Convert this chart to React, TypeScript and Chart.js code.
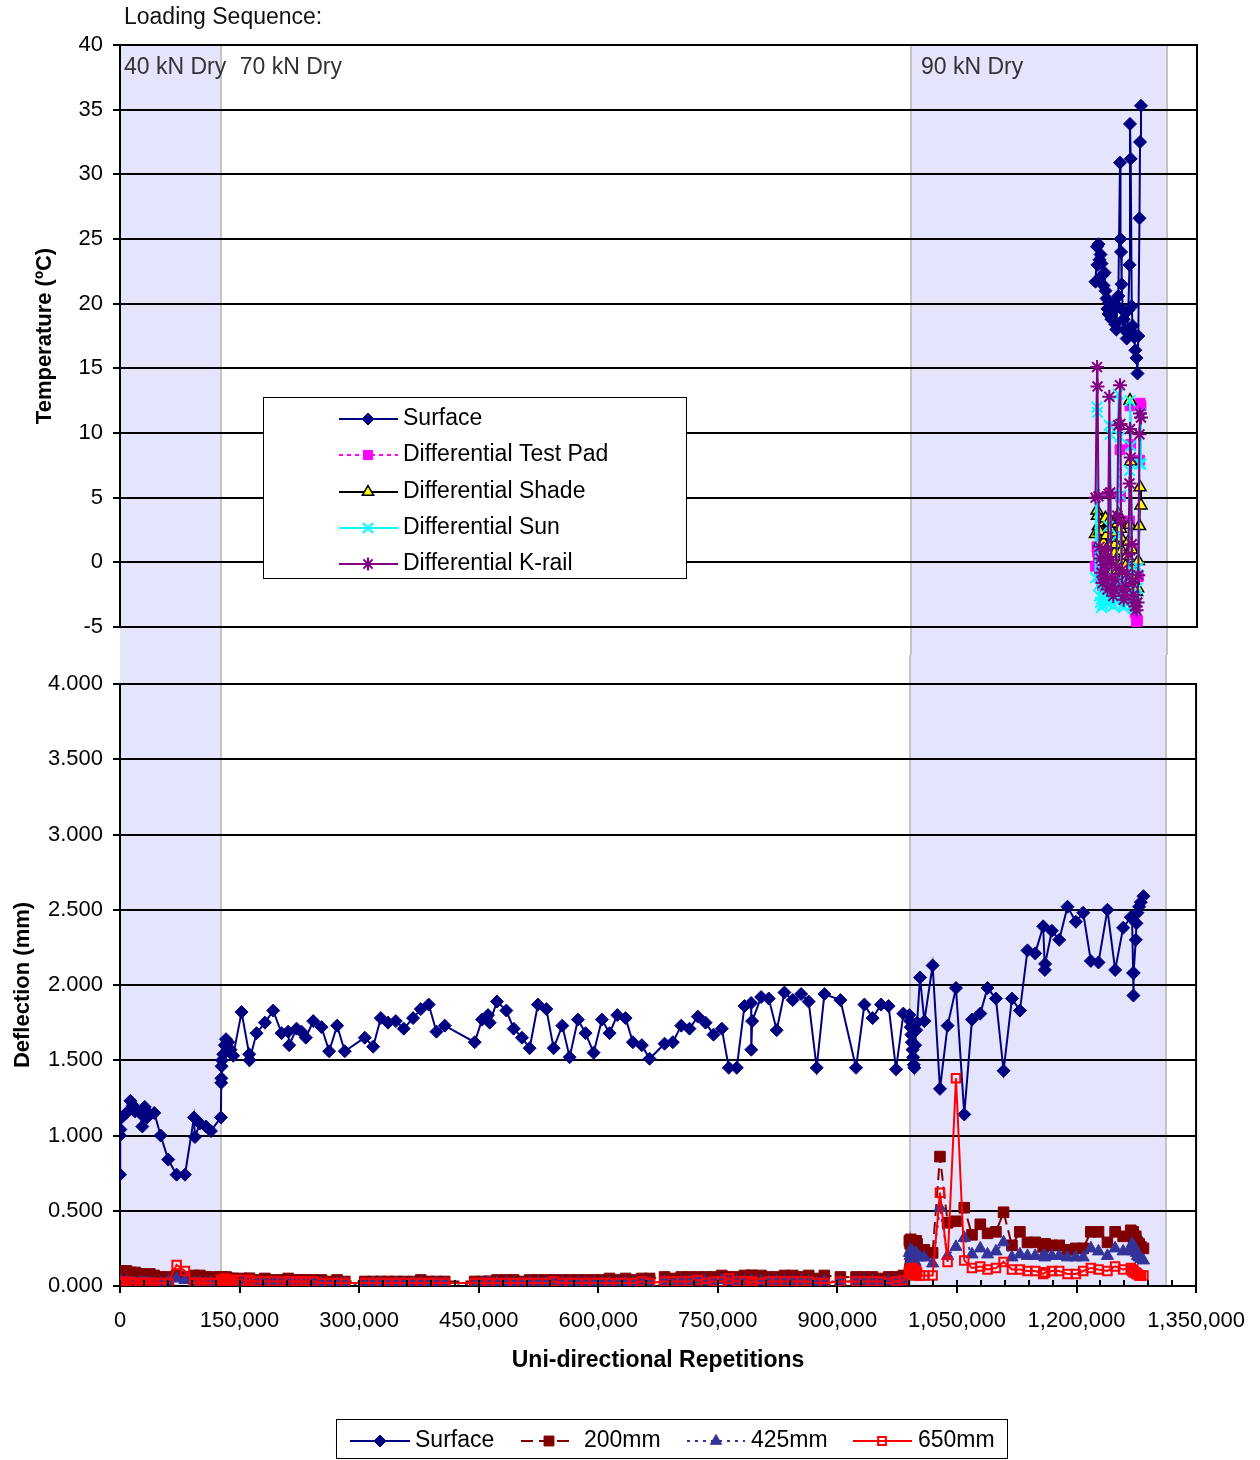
import React, { useEffect, useRef } from 'react';
import { Chart, registerables } from 'chart.js';
import { drawPoint } from 'chart.js/helpers';

Chart.register(...registerables);

const FONT = '"Liberation Sans", Arial, Helvetica, sans-serif';
const FS = 22;
const FS_TEXT = 23;

// ---------------- Temperature panel data ----------------
const tempRepetitions = [
  1222800, 1224700, 1225300, 1226500, 1227800, 1229100, 1230300, 1231600, 1232800, 1234100,
  1235300, 1236600, 1237800, 1239100, 1240100, 1241300, 1242600, 1243800, 1245100, 1246400,
  1247600, 1248900, 1250100, 1251400, 1253500, 1254100, 1254800, 1255600, 1256900, 1258100,
  1259400, 1260600, 1261900, 1263900, 1265400, 1266000, 1266900, 1268200, 1269200, 1270200,
  1271400, 1272700, 1274200, 1275400, 1276400, 1277900, 1278600, 1279800,
];
const tempSurface = [
  21.7, 24.4, 23.0, 24.6, 23.4, 23.8, 23.1, 22.2, 21.4, 22.4,
  21.0, 20.4, 19.6, 19.2, 20.1, 19.1, 18.8, 19.4, 20.0, 19.5,
  18.4, 18.0, 19.8, 20.6, 30.9, 25.0, 24.0, 21.5, 19.5, 18.8,
  18.0, 17.9, 17.3, 19.5, 23.0, 33.9, 31.2, 19.8, 18.3, 17.7,
  17.4, 16.4, 15.8, 14.6, 17.5, 26.6, 32.5, 35.3,
];
const tempTestPad = [
  -0.3, 1.2, 0.8, 0.2, -0.6, -1.0, -1.4, -1.8, -2.0, -1.2,
  -0.9, -1.6, -2.1, -0.8, 0.6, 0.1, -1.1, -1.9, -2.3, -1.6,
  -1.1, -1.5, -0.4, 2.1, 8.7, 5.1, 0.6, -1.0, -2.0, -2.6,
  -2.2, -1.8, -1.2, -0.5, 3.2, 12.1, 9.1, 1.1, -1.4, -2.6,
  -3.3, -3.9, -4.7, -4.5, -1.1, 7.9, 12.3, 12.1,
];
const tempShade = [
  2.2, 4.0, 3.6, 2.8, 2.4, 1.6, 0.9, 0.4, 1.5, 3.1,
  3.4, 2.1, 1.1, 0.6, 3.2, 2.6, 1.3, 0.2, -0.6, 0.7,
  1.4, 2.3, 3.0, 3.7, 3.3, 2.6, 1.9, 0.9, 0.1, -0.8,
  -1.1, -0.3, 0.5, 1.6, 2.9, 12.5, 7.8, 1.0, -0.5, -1.3,
  -1.8, -2.1, -2.3, -2.0, 0.1, 2.8, 5.8, 4.4,
];
const tempSun = [
  -1.2, 12.0, 11.6, -1.8, -2.6, -3.1, -3.5, -3.3, -2.8, -2.1,
  -1.7, -2.6, -3.2, 2.8, 10.6, 9.9, -2.2, -3.1, -3.4, -2.9,
  -2.4, -2.0, 2.1, 13.0, 9.7, 5.2, -1.4, -2.6, -3.3, -3.5,
  -3.1, -2.7, -2.2, -1.0, 7.1, 12.5, 9.0, -0.6, -2.6, -3.3,
  -3.6, -3.1, -2.7, -2.0, -0.4, 7.6, 11.5, 7.6,
];
const tempKrail = [
  5.0, 15.1, 13.6, 5.1, 1.2, 0.3, -0.8, -1.6, -1.1, -0.2,
  0.9, -1.4, -2.1, 5.3, 12.8, 5.4, 0.2, -1.9, -2.6, -2.1,
  -1.3, -0.4, 3.6, 10.6, 13.7, 10.7, 3.1, -0.6, -2.1, -2.9,
  -2.5, -1.8, -0.9, 0.6, 6.1, 10.3, 8.1, 1.4, -1.6, -2.5,
  -3.1, -3.4, -3.7, -3.1, -1.0, 9.9, 11.5, 11.2,
];

// ---------------- Deflection panel data ----------------
const deflRepetitions = [
  0, 0, 500, 2000, 8000, 13000, 16000, 19000, 25000, 28000,
  31000, 34000, 37500, 43000, 51000, 60500, 71000, 81500, 92800, 94000,
  100300, 107800, 114000, 126600, 127000, 127200, 127500, 128000, 129500, 131500,
  133000, 135800, 138700, 142000, 152500, 162100, 162500, 171300, 181800, 192200,
  202700, 211000, 212300, 221500, 227700, 233200, 242400, 252800, 262400, 272400,
  282000, 307100, 317600, 327200, 336300, 346000, 356000, 367700, 377300, 387300,
  397000, 407400, 445000, 454200, 461700, 463800, 473000, 484700, 493900, 504300,
  513900, 524300, 534900, 544000, 554900, 564100, 574500, 584100, 594200, 604600,
  614200, 623900, 634300, 643400, 654700, 664400, 683200, 693600, 704100, 714500,
  724900, 734600, 744600, 755000, 763800, 773800, 783400, 791800, 792000, 793100,
  804300, 813900, 823900, 833600, 844000, 854500, 864000, 874000, 883700, 903800,
  923400, 933900, 944200, 954800, 964300, 973600, 982800, 990300, 991300, 992000,
  992800, 993500, 994300, 995000, 995800, 996500, 997500, 998800, 1000000, 1003700,
  1009100, 1019500, 1028700, 1038300, 1048800, 1059200, 1068900, 1079300, 1088400, 1098900,
  1108500, 1119000, 1129000, 1138500, 1148200, 1158200, 1160300, 1160600, 1169100, 1178300,
  1188700, 1199200, 1208400, 1218000, 1227600, 1238800, 1248500, 1258500, 1268100, 1269800,
  1271000, 1271400, 1271800, 1274400, 1275200, 1276400, 1278600, 1280700, 1284000,
];
const deflSurface = [
  0.74, 1.00, 1.04, 1.12, 1.15, 1.23, 1.20, 1.16, 1.15, 1.06,
  1.19, 1.12, 1.14, 1.15, 1.00, 0.84, 0.74, 0.74, 1.12, 0.99,
  1.08, 1.06, 1.03, 1.12, 1.35, 1.38, 1.46, 1.50, 1.54, 1.60,
  1.64, 1.62, 1.57, 1.53, 1.82, 1.54, 1.50, 1.68, 1.75, 1.83,
  1.68, 1.69, 1.60, 1.71, 1.69, 1.65, 1.76, 1.72, 1.56, 1.73,
  1.56, 1.65, 1.59, 1.78, 1.75, 1.76, 1.71, 1.78, 1.84, 1.87,
  1.69, 1.73, 1.62, 1.77, 1.80, 1.75, 1.89, 1.83, 1.71, 1.65,
  1.58, 1.87, 1.84, 1.58, 1.73, 1.52, 1.77, 1.68, 1.55, 1.77,
  1.68, 1.80, 1.78, 1.62, 1.60, 1.51, 1.61, 1.62, 1.73, 1.71,
  1.79, 1.75, 1.67, 1.71, 1.45, 1.45, 1.86, 1.88, 1.57, 1.76,
  1.92, 1.91, 1.70, 1.95, 1.90, 1.94, 1.89, 1.45, 1.94, 1.90,
  1.45, 1.87, 1.78, 1.87, 1.86, 1.44, 1.81, 1.80, 1.76, 1.72,
  1.67, 1.62, 1.57, 1.52, 1.47, 1.45, 1.60, 1.70, 1.75, 2.05,
  1.76, 2.13, 1.31, 1.73, 1.98, 1.14, 1.77, 1.81, 1.98, 1.91,
  1.43, 1.91, 1.83, 2.23, 2.21, 2.39, 2.10, 2.14, 2.36, 2.30,
  2.52, 2.42, 2.48, 2.16, 2.15, 2.50, 2.10, 2.38, 2.45, 2.44,
  2.08, 1.93, 2.08, 2.30, 2.41, 2.48, 2.52, 2.55, 2.59,
];
const defl200 = [
  0.07, 0.08, 0.09, 0.10, 0.10, 0.09, 0.08, 0.09, 0.08, 0.08,
  0.07, 0.07, 0.08, 0.07, 0.06, 0.06, 0.07, 0.06, 0.07, 0.06,
  0.07, 0.06, 0.06, 0.06, 0.05, 0.05, 0.06, 0.05, 0.05, 0.05,
  0.06, 0.05, 0.05, 0.05, 0.05, 0.05, 0.05, 0.04, 0.05, 0.04,
  0.04, 0.05, 0.04, 0.04, 0.04, 0.04, 0.04, 0.04, 0.03, 0.04,
  0.03, 0.03, 0.03, 0.03, 0.03, 0.03, 0.03, 0.03, 0.04, 0.03,
  0.03, 0.03, 0.03, 0.03, 0.03, 0.03, 0.04, 0.04, 0.04, 0.03,
  0.04, 0.04, 0.04, 0.04, 0.04, 0.04, 0.04, 0.04, 0.04, 0.04,
  0.05, 0.04, 0.05, 0.04, 0.05, 0.05, 0.06, 0.05, 0.06, 0.06,
  0.06, 0.06, 0.06, 0.07, 0.06, 0.06, 0.07, 0.07, 0.06, 0.07,
  0.07, 0.06, 0.06, 0.07, 0.07, 0.06, 0.07, 0.05, 0.07, 0.06,
  0.06, 0.06, 0.06, 0.05, 0.06, 0.06, 0.07, 0.30, 0.28, 0.31,
  0.27, 0.25, 0.29, 0.26, 0.24, 0.27, 0.22, 0.30, 0.28, 0.24,
  0.24, 0.22, 0.86, 0.42, 0.43, 0.52, 0.34, 0.41, 0.35, 0.36,
  0.49, 0.27, 0.36, 0.29, 0.29, 0.26, 0.27, 0.28, 0.27, 0.27,
  0.24, 0.25, 0.25, 0.36, 0.36, 0.29, 0.36, 0.33, 0.37, 0.35,
  0.36, 0.34, 0.31, 0.33, 0.30, 0.29, 0.28, 0.26, 0.25,
];
const defl425 = [
  0.02, 0.02, 0.02, 0.03, 0.03, 0.02, 0.02, 0.02, 0.02, 0.02,
  0.02, 0.02, 0.02, 0.02, 0.02, 0.03, 0.05, 0.04, 0.02, 0.02,
  0.02, 0.02, 0.02, 0.02, 0.02, 0.02, 0.03, 0.02, 0.02, 0.03,
  0.02, 0.02, 0.02, 0.02, 0.02, 0.02, 0.02, 0.02, 0.02, 0.02,
  0.02, 0.02, 0.02, 0.02, 0.02, 0.02, 0.02, 0.02, 0.01, 0.02,
  0.02, 0.01, 0.02, 0.02, 0.01, 0.02, 0.02, 0.02, 0.02, 0.01,
  0.02, 0.02, 0.01, 0.02, 0.02, 0.02, 0.02, 0.02, 0.02, 0.02,
  0.02, 0.02, 0.02, 0.02, 0.02, 0.02, 0.02, 0.02, 0.02, 0.02,
  0.02, 0.02, 0.02, 0.02, 0.02, 0.02, 0.03, 0.02, 0.03, 0.03,
  0.03, 0.03, 0.02, 0.04, 0.03, 0.03, 0.03, 0.03, 0.03, 0.03,
  0.03, 0.03, 0.03, 0.03, 0.03, 0.03, 0.03, 0.02, 0.03, 0.03,
  0.03, 0.03, 0.03, 0.02, 0.03, 0.03, 0.03, 0.22, 0.20, 0.24,
  0.21, 0.18, 0.23, 0.19, 0.17, 0.21, 0.16, 0.22, 0.20, 0.19,
  0.19, 0.15, 0.52, 0.20, 0.26, 0.32, 0.21, 0.25, 0.21, 0.23,
  0.29, 0.19, 0.21, 0.20, 0.20, 0.20, 0.19, 0.20, 0.20, 0.20,
  0.19, 0.19, 0.19, 0.25, 0.23, 0.20, 0.25, 0.23, 0.25, 0.28,
  0.27, 0.25, 0.23, 0.24, 0.22, 0.20, 0.19, 0.18, 0.17,
];
const defl650 = [
  0.02, 0.02, 0.02, 0.02, 0.03, 0.02, 0.02, 0.02, 0.02, 0.02,
  0.02, 0.02, 0.02, 0.02, 0.02, 0.02, 0.14, 0.10, 0.02, 0.02,
  0.02, 0.02, 0.02, 0.02, 0.03, 0.03, 0.04, 0.04, 0.03, 0.05,
  0.04, 0.04, 0.03, 0.04, 0.04, 0.03, 0.04, 0.03, 0.03, 0.03,
  0.03, 0.03, 0.03, 0.03, 0.03, 0.03, 0.03, 0.02, 0.02, 0.02,
  0.02, 0.02, 0.02, 0.02, 0.02, 0.02, 0.02, 0.02, 0.02, 0.02,
  0.02, 0.02, 0.02, 0.02, 0.02, 0.02, 0.02, 0.02, 0.02, 0.02,
  0.02, 0.02, 0.02, 0.03, 0.02, 0.02, 0.02, 0.02, 0.02, 0.02,
  0.02, 0.02, 0.02, 0.02, 0.03, 0.02, 0.03, 0.03, 0.03, 0.03,
  0.04, 0.02, 0.03, 0.03, 0.05, 0.03, 0.03, 0.02, 0.03, 0.03,
  0.02, 0.03, 0.03, 0.03, 0.03, 0.03, 0.03, 0.02, 0.02, 0.03,
  0.03, 0.03, 0.03, 0.03, 0.02, 0.03, 0.04, 0.10, 0.09, 0.11,
  0.10, 0.08, 0.12, 0.09, 0.08, 0.11, 0.07, 0.10, 0.09, 0.07,
  0.07, 0.07, 0.62, 0.16, 1.38, 0.17, 0.12, 0.13, 0.11, 0.12,
  0.16, 0.11, 0.11, 0.10, 0.10, 0.08, 0.09, 0.09, 0.10, 0.10,
  0.08, 0.08, 0.10, 0.12, 0.11, 0.10, 0.13, 0.11, 0.12, 0.10,
  0.11, 0.10, 0.09, 0.09, 0.08, 0.08, 0.07, 0.07, 0.07,
];

// ---------------- Loading sequence ----------------
const loadLabels = ['40 kN Dry', '70 kN Dry', '90 kN Dry'];
const loadStart = [0, 127000, 991500];
const loadEnd = [127000, 991500, 1312000];
const loadShaded = [true, false, true];
const loadLabelAt = [5000, 150000, 1004000];

// ---------------- Axes ----------------
const X_MIN = 0;
const X_MAX = 1350000;
const X_STEP = 150000;
const X_MINOR = 30000;
const TEMP_MIN = -5;
const TEMP_MAX = 40;
const TEMP_STEP = 5;
const DEFL_MIN = 0;
const DEFL_MAX = 4;
const DEFL_STEP = 0.5;

const BAND_FILL = 'rgb(228,228,252)';

const tempStyles = [
  { label: 'Surface', line: '#000080', fill: '#000080', edge: '#000080', shape: 'rectRot', r: 6.5, dash: [], pbw: 1 },
  { label: 'Differential Test Pad', line: '#FF00FF', fill: '#FF00FF', edge: '#FF00FF', shape: 'rect', r: 7, dash: [4, 4], pbw: 1 },
  { label: 'Differential Shade', line: '#000000', fill: '#FFFF00', edge: '#000000', shape: 'triangle', r: 7, dash: [], pbw: 1.5 },
  { label: 'Differential Sun', line: '#00FFFF', fill: '#00FFFF', edge: '#00FFFF', shape: 'crossRot', r: 7.5, dash: [], pbw: 2 },
  { label: 'Differential K-rail', line: '#800080', fill: '#800080', edge: '#800080', shape: 'star', r: 7, dash: [], pbw: 2 },
];
const deflStyles = [
  { label: 'Surface', line: '#000080', fill: '#000080', edge: '#000080', shape: 'rectRot', r: 6.5, dash: [], pbw: 1 },
  { label: '200mm', line: '#800000', fill: '#800000', edge: '#800000', shape: 'rect', r: 7.5, dash: [12, 6], pbw: 1 },
  { label: '425mm', line: '#333399', fill: '#333399', edge: '#333399', shape: 'triangle', r: 7, dash: [3, 5], pbw: 1 },
  { label: '650mm', line: '#FF0000', fill: 'rgba(0,0,0,0)', edge: '#FF0000', shape: 'rect', r: 6, dash: [], pbw: 2 },
];

function makeDataset(style: any, xs: number[], ys: number[], i: number, n: number) {
  return {
    label: style.label,
    data: xs.map((x, k) => ({ x, y: ys[k] })),
    showLine: true,
    tension: 0,
    fill: false,
    borderColor: style.line,
    borderWidth: 2,
    borderDash: style.dash,
    backgroundColor: style.fill,
    pointBackgroundColor: style.fill,
    pointBorderColor: style.edge,
    pointBorderWidth: style.pbw,
    pointStyle: style.shape,
    pointRadius: style.r,
    pointHoverRadius: style.r,
    order: n - i,
  };
}

function drawLegendEntry(ctx: any, ds: any, x0: number, x1: number, xm: number, xt: number, y: number) {
  ctx.save();
  ctx.lineWidth = ds.borderWidth;
  ctx.strokeStyle = ds.borderColor;
  ctx.setLineDash(ds.borderDash || []);
  ctx.beginPath();
  ctx.moveTo(x0, y);
  ctx.lineTo(x1, y);
  ctx.stroke();
  ctx.setLineDash([]);
  ctx.fillStyle = ds.pointBackgroundColor;
  ctx.strokeStyle = ds.pointBorderColor;
  ctx.lineWidth = ds.pointBorderWidth;
  drawPoint(ctx, { pointStyle: ds.pointStyle, radius: ds.pointRadius - 0.5, borderWidth: ds.pointBorderWidth, rotation: 0 } as any, xm, y);
  ctx.fillStyle = '#000';
  ctx.font = `${FS_TEXT}px ${FONT}`;
  ctx.textAlign = 'left';
  ctx.textBaseline = 'middle';
  ctx.fillText(ds.label, xt, y);
  ctx.restore();
}

const bandsPlugin = {
  id: 'loadBands',
  beforeDraw(chart: any, _args: any, opts: any) {
    const { ctx, chartArea, scales } = chart;
    const xs = scales.x;
    const y0 = opts.fromCanvasTop ? 0 : chartArea.top;
    const y1 = opts.toCanvasBottom ? chart.height : chartArea.bottom;
    ctx.save();
    ctx.fillStyle = BAND_FILL;
    for (let i = 0; i < loadStart.length; i++) {
      if (!loadShaded[i]) continue;
      const a = Math.round(xs.getPixelForValue(loadStart[i]));
      const b = Math.round(xs.getPixelForValue(loadEnd[i]));
      ctx.fillRect(a, y0, b - a, y1 - y0);
    }
    ctx.strokeStyle = '#c4c4c4';
    ctx.lineWidth = 2;
    for (let i = 0; i < loadEnd.length; i++) {
      const p = Math.round(xs.getPixelForValue(loadEnd[i]));
      ctx.beginPath();
      ctx.moveTo(p, y0);
      ctx.lineTo(p, y1);
      ctx.stroke();
    }
    ctx.restore();
  },
};

const topOverlay = {
  id: 'topOverlay',
  afterDraw(chart: any) {
    const { ctx, chartArea, scales } = chart;
    const xs = scales.x;
    ctx.save();
    ctx.strokeStyle = '#000';
    ctx.lineWidth = 2;
    ctx.beginPath();
    ctx.moveTo(chartArea.right, chartArea.top - 1);
    ctx.lineTo(chartArea.right, chartArea.bottom + 1);
    ctx.stroke();

    ctx.font = `${FS_TEXT}px ${FONT}`;
    ctx.textAlign = 'left';
    ctx.textBaseline = 'middle';
    ctx.fillStyle = '#111';
    ctx.fillText('Loading Sequence:', 124, 18);
    ctx.fillStyle = '#333';
    for (let i = 0; i < loadLabels.length; i++) {
      ctx.fillText(loadLabels[i], xs.getPixelForValue(loadLabelAt[i]), 68);
    }

    // legend box
    ctx.fillStyle = '#fff';
    ctx.fillRect(264, 398, 422, 180);
    ctx.strokeStyle = '#000';
    ctx.lineWidth = 1;
    ctx.strokeRect(263.5, 397.5, 423, 181);
    const rows = [419, 455, 492, 528, 564];
    chart.data.datasets.forEach((ds: any, i: number) => {
      drawLegendEntry(ctx, ds, 339, 398, 368, 403, rows[i]);
    });
    ctx.restore();
  },
};

const bottomOverlay = {
  id: 'bottomOverlay',
  afterDraw(chart: any) {
    const { ctx, chartArea, scales } = chart;
    const xs = scales.x;
    ctx.save();
    ctx.strokeStyle = '#000';
    ctx.lineWidth = 2;
    ctx.beginPath();
    ctx.moveTo(chartArea.right, chartArea.top - 1);
    ctx.lineTo(chartArea.right, chartArea.bottom + 1);
    ctx.stroke();
    // inner (minor + major) tick marks
    for (let v = X_MIN; v <= X_MAX; v += X_MINOR) {
      const p = Math.round(xs.getPixelForValue(v));
      ctx.beginPath();
      ctx.moveTo(p, chartArea.bottom - 6);
      ctx.lineTo(p, chartArea.bottom);
      ctx.stroke();
    }
    // legend
    const ly = 786;
    ctx.fillStyle = '#fff';
    ctx.fillRect(337, 765, 670, 38);
    ctx.strokeStyle = '#000';
    ctx.lineWidth = 1;
    ctx.strokeRect(336.5, 764.5, 671, 39);
    const slots = [
      [350, 410, 380, 415],
      [521, 573, 549, 584],
      [687, 745, 716, 751],
      [853, 912, 882, 918],
    ];
    chart.data.datasets.forEach((ds: any, i: number) => {
      const s = slots[i];
      drawLegendEntry(ctx, ds, s[0], s[1], s[2], s[3], ly);
    });
    ctx.restore();
  },
};

export default function App() {
  const topRef = useRef<HTMLCanvasElement>(null);
  const botRef = useRef<HTMLCanvasElement>(null);

  useEffect(() => {
    Chart.defaults.font.family = FONT;
    Chart.defaults.font.size = FS;
    Chart.defaults.color = '#000';

    const tempSeries = [tempSurface, tempTestPad, tempShade, tempSun, tempKrail];
    const deflSeries = [deflSurface, defl200, defl425, defl650];

    const top = new Chart(topRef.current as HTMLCanvasElement, {
      type: 'scatter',
      data: {
        datasets: tempStyles.map((s, i) => makeDataset(s, tempRepetitions, tempSeries[i], i, tempStyles.length)) as any,
      },
      options: {
        animation: false,
        responsive: true,
        maintainAspectRatio: false,
        devicePixelRatio: 1,
        layout: { padding: { left: 0, right: 63, top: 45, bottom: 28 } },
        plugins: {
          legend: { display: false },
          tooltip: { enabled: false },
          loadBands: { fromCanvasTop: false, toCanvasBottom: true },
        } as any,
        scales: {
          x: { type: 'linear', min: X_MIN, max: X_MAX, display: false },
          y: {
            type: 'linear',
            min: TEMP_MIN,
            max: TEMP_MAX,
            afterFit: (s: any) => { s.width = 120; },
            ticks: { stepSize: TEMP_STEP, padding: 10, color: '#000', font: { size: FS } },
            grid: { color: '#000', lineWidth: 2, tickLength: 7, drawTicks: true },
            border: { display: true, color: '#000', width: 2 },
            title: {
              display: true,
              text: 'Temperature (ºC)',
              color: '#000',
              font: { size: FS, weight: 'bold' },
              padding: { top: 32, bottom: 0 },
            },
          },
        },
      } as any,
      plugins: [bandsPlugin, topOverlay],
    });

    const bot = new Chart(botRef.current as HTMLCanvasElement, {
      type: 'scatter',
      data: {
        datasets: deflStyles.map((s, i) => makeDataset(s, deflRepetitions, deflSeries[i], i, deflStyles.length)) as any,
      },
      options: {
        animation: false,
        responsive: true,
        maintainAspectRatio: false,
        devicePixelRatio: 1,
        layout: { padding: { left: 0, right: 63, top: 29, bottom: 0 } },
        plugins: {
          legend: { display: false },
          tooltip: { enabled: false },
          loadBands: { fromCanvasTop: true, toCanvasBottom: false },
        } as any,
        scales: {
          x: {
            type: 'linear',
            min: X_MIN,
            max: X_MAX,
            afterFit: (s: any) => { s.height = 174; },
            ticks: {
              stepSize: X_STEP,
              autoSkip: false,
              maxRotation: 0,
              padding: 15,
              color: '#000',
              font: { size: FS },
              callback: (v: any) => Number(v).toLocaleString('en-US'),
            },
            grid: { drawOnChartArea: false, drawTicks: true, tickLength: 7, color: '#000', lineWidth: 2 },
            border: { display: true, color: '#000', width: 2 },
            title: {
              display: true,
              text: 'Uni-directional Repetitions',
              color: '#000',
              font: { size: 23, weight: 'bold' },
              padding: { top: 0, bottom: 86 },
            },
          },
          y: {
            type: 'linear',
            min: DEFL_MIN,
            max: DEFL_MAX,
            afterFit: (s: any) => { s.width = 120; },
            ticks: {
              stepSize: DEFL_STEP,
              padding: 10,
              color: '#000',
              font: { size: FS },
              callback: (v: any) => Number(v).toFixed(3),
            },
            grid: { color: '#000', lineWidth: 2, tickLength: 7, drawTicks: true },
            border: { display: true, color: '#000', width: 2 },
            title: {
              display: true,
              text: 'Deflection (mm)',
              color: '#000',
              font: { size: FS, weight: 'bold' },
              padding: { top: 10, bottom: 0 },
            },
          },
        },
      } as any,
      plugins: [bandsPlugin, bottomOverlay],
    });

    return () => {
      top.destroy();
      bot.destroy();
    };
  }, []);

  return (
    <div style={{ position: 'absolute', left: 0, top: 0, width: 1260, height: 1460, background: '#fff' }}>
      <div style={{ position: 'absolute', left: 0, top: 0, width: 1260, height: 655 }}>
        <canvas ref={topRef} />
      </div>
      <div style={{ position: 'absolute', left: 0, top: 655, width: 1260, height: 805 }}>
        <canvas ref={botRef} />
      </div>
    </div>
  );
}
